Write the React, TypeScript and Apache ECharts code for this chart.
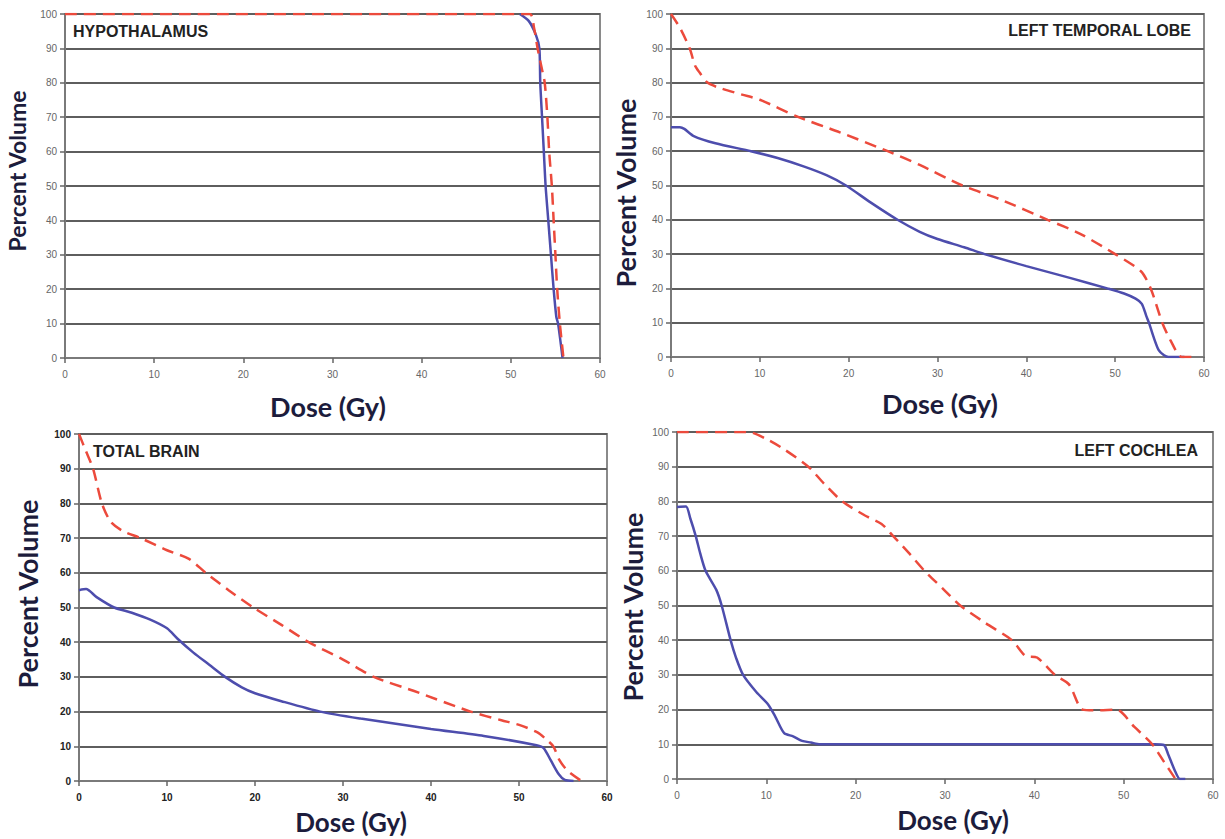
import React, { useEffect, useRef } from "react";
import * as echarts from "echarts";

// ---- Data: [dose (Gy), percent volume] ----
const panelTitles = ["HYPOTHALAMUS", "LEFT TEMPORAL LOBE", "TOTAL BRAIN", "LEFT COCHLEA"];
const doseTicks = [0, 10, 20, 30, 40, 50, 60];
const volumeTicks = [0, 10, 20, 30, 40, 50, 60, 70, 80, 90, 100];

const hypothalamusSolid: [number, number][] = [
  [51.0, 100], [52.0, 98], [52.8, 94], [53.2, 90], [53.3, 80], [53.5, 70], [53.7, 60],
  [53.9, 50], [54.2, 40], [54.5, 30], [54.8, 20], [55.1, 12], [55.3, 10], [55.8, 0],
];
const hypothalamusDashed: [number, number][] = [
  [0, 100], [52.1, 100], [52.6, 96], [53.0, 90], [53.4, 85], [53.8, 80], [54.1, 70], [54.3, 60],
  [54.6, 50], [54.8, 40], [55.0, 30], [55.2, 20], [55.5, 10], [55.9, 0],
];

const temporalSolid: [number, number][] = [
  [0, 67], [1, 67], [1.5, 66.5], [2.5, 64.5], [5, 62.3], [9, 60], [12, 58], [15, 55.5],
  [17.5, 53], [19.7, 50], [22.5, 45], [25.5, 40], [28, 36.5], [30, 34.4], [33, 32], [35.3, 30],
  [40, 26.5], [45, 23], [49.1, 20], [51, 18.5], [52.3, 17], [53, 15.5], [53.5, 12], [53.8, 10],
  [54.3, 6], [54.9, 2], [55.5, 0.5], [56, 0], [57.8, 0],
];
const temporalDashed: [number, number][] = [
  [0, 100], [1, 96], [2.1, 90], [2.7, 85], [3.2, 83], [4.1, 80], [5.4, 78.5], [8, 76.5],
  [10, 75], [14.3, 70], [19, 65.5], [24.4, 60], [28, 56], [32.8, 50], [37, 46], [42.4, 40],
  [46, 36], [50, 30], [52.9, 25], [54, 20], [55.3, 10], [56.2, 5], [57.5, 0], [59.1, 0],
];

const brainSolid: [number, number][] = [
  [0, 55], [0.8, 55.3], [2, 53], [4, 50], [6, 48.5], [8.1, 46.5], [10, 44], [11.2, 41],
  [13, 37], [14.8, 33.5], [16.6, 30], [18.5, 27], [20, 25.3], [23, 23], [27.4, 20], [32, 18],
  [40, 15], [46, 13], [52, 10.3], [52.8, 9.5], [53.6, 6], [54.5, 2], [55.2, 0.3], [56.2, 0],
];
const brainDashed: [number, number][] = [
  [0, 100], [0.8, 95], [1.6, 90], [2.6, 80], [3.6, 74.7], [5, 72], [7, 70], [10, 66.5],
  [12.5, 64], [14.4, 60], [17, 55], [19.8, 50], [23, 45], [26.1, 40], [30, 35], [33.5, 30],
  [38, 26], [44.5, 20], [48, 17.5], [50.1, 16.1], [52.1, 14], [53.1, 12], [53.9, 10],
  [54.6, 6], [55.5, 3], [57.1, 0],
];

const cochleaSolid: [number, number][] = [
  [0, 78.4], [1, 78.5], [1.5, 75], [2.1, 70], [2.6, 65], [3.2, 60], [4.4, 54.5], [5, 50],
  [6, 40], [6.6, 35], [7.4, 30], [8.9, 25], [10.2, 21.5], [11, 18], [12, 13.2], [13, 12.3],
  [14, 11], [15, 10.5], [16, 10], [53.5, 10], [54.5, 9.8], [55, 7], [55.8, 2], [56.3, 0],
  [56.9, 0],
];
const cochleaDashed: [number, number][] = [
  [0, 100], [8, 100], [10, 98], [12, 95], [14.7, 90], [16.5, 85], [18.5, 80], [21, 76],
  [22.9, 73.5], [24.2, 70], [26, 65], [27.7, 60], [29.7, 55], [31.7, 50], [34.5, 45],
  [37.5, 40], [39, 35.5], [40.3, 35], [42.3, 30], [43.9, 27.2], [45.4, 20], [47, 19.8],
  [49.2, 20], [51.2, 15], [53.2, 10], [54.5, 5], [55.8, 0],
];

const solidSeries = [hypothalamusSolid, temporalSolid, brainSolid, cochleaSolid];
const dashedSeries = [hypothalamusDashed, temporalDashed, brainDashed, cochleaDashed];

// ---- Layout / style ----
const grids = [
  { left: 65, top: 14, width: 535, height: 344 },
  { left: 671, top: 14, width: 533, height: 343 },
  { left: 79, top: 434, width: 528, height: 347 },
  { left: 677, top: 432, width: 536, height: 347 },
];
const boldLabels = [false, false, true, false];
const titlePos = [
  { x: 73, y: 31, align: "left" },
  { x: 1191, y: 30, align: "right" },
  { x: 93, y: 451, align: "left" },
  { x: 1198, y: 450, align: "right" },
];
const yNamePos = [
  { x: 17, y: 171, size: 23 },
  { x: 625, y: 193, size: 27 },
  { x: 27, y: 594, size: 27 },
  { x: 632, y: 607, size: 27 },
];
const xNamePos = [
  { x: 328, y: 406, size: 27 },
  { x: 940, y: 403, size: 27 },
  { x: 351, y: 822, size: 26 },
  { x: 953, y: 820, size: 26 },
];

const BLUE = "#4d4dad";
const RED = "#ec4a3c";
const NAME_COLOR = "#1c1c3c";
const NAME_FONT = "Lato, 'Open Sans', sans-serif";

export default function App() {
  const ref = useRef<HTMLDivElement>(null);

  useEffect(() => {
    if (!ref.current) return;
    const chart = echarts.init(ref.current, undefined, { renderer: "svg" });

    const xAxis = grids.map((_, i) => ({
      type: "value",
      gridIndex: i,
      min: doseTicks[0],
      max: doseTicks[doseTicks.length - 1],
      interval: 10,
      axisLine: { show: true, onZero: false, lineStyle: { color: "#7a7a7a", width: 2 } },
      axisTick: { show: true, length: 5, lineStyle: { color: "#666", width: 1.5 } },
      axisLabel: {
        fontSize: 10,
        color: boldLabels[i] ? "#222" : "#666",
        fontWeight: boldLabels[i] ? "bold" : "normal",
        fontFamily: "'Liberation Sans', Arial, sans-serif",
        margin: 11,
      },
      splitLine: { show: false },
    }));

    const yAxis = grids.map((_, i) => ({
      type: "value",
      gridIndex: i,
      min: volumeTicks[0],
      max: volumeTicks[volumeTicks.length - 1],
      interval: 10,
      axisLine: { show: true, lineStyle: { color: "#7a7a7a", width: 2 } },
      axisTick: { show: true, length: 5, lineStyle: { color: "#666", width: 1.5 } },
      axisLabel: {
        fontSize: 10,
        color: boldLabels[i] ? "#222" : "#666",
        fontWeight: boldLabels[i] ? "bold" : "normal",
        fontFamily: "'Liberation Sans', Arial, sans-serif",
        margin: 8,
      },
      splitLine: { show: true, lineStyle: { color: "#5e5e5e", width: 2 } },
    }));

    const series: any[] = [];
    grids.forEach((_, i) => {
      series.push({
        type: "line",
        name: "solid",
        xAxisIndex: i,
        yAxisIndex: i,
        data: solidSeries[i],
        symbol: "none",
        smooth: 0.25,
        lineStyle: { color: BLUE, width: 2.5, type: "solid" },
        z: 3,
      });
      series.push({
        type: "line",
        name: "dashed",
        xAxisIndex: i,
        yAxisIndex: i,
        data: dashedSeries[i],
        symbol: "none",
        smooth: 0.25,
        lineStyle: { color: RED, width: 2.5, type: [12, 7] },
        z: 4,
      });
    });

    const graphic: any[] = [];
    panelTitles.forEach((t, i) => {
      graphic.push({
        type: "text",
        x: titlePos[i].x,
        y: titlePos[i].y,
        z: 10,
        style: {
          text: t,
          fill: "#222",
          font: "bold 16px 'Liberation Sans', Arial, sans-serif",
          textAlign: titlePos[i].align,
          textVerticalAlign: "middle",
        },
      });
      graphic.push({
        type: "text",
        x: yNamePos[i].x,
        y: yNamePos[i].y,
        rotation: Math.PI / 2,
        style: {
          text: "Percent Volume",
          fill: NAME_COLOR,
          font: `bold ${yNamePos[i].size}px ${NAME_FONT}`,
          textAlign: "center",
          textVerticalAlign: "middle",
        },
      });
      graphic.push({
        type: "text",
        x: xNamePos[i].x,
        y: xNamePos[i].y,
        style: {
          text: "Dose (Gy)",
          fill: NAME_COLOR,
          font: `bold ${xNamePos[i].size}px ${NAME_FONT}`,
          textAlign: "center",
          textVerticalAlign: "middle",
        },
      });
    });

    chart.setOption({
      animation: false,
      backgroundColor: "#ffffff",
      grid: grids.map((g) => ({
        ...g,
        show: true,
        borderColor: "#8a8a8a",
        borderWidth: 2,
        backgroundColor: "#ffffff",
        containLabel: false,
      })),
      xAxis,
      yAxis,
      series,
      graphic,
    });

    return () => chart.dispose();
  }, []);

  return (
    <div
      ref={ref}
      style={{ position: "absolute", left: 0, top: 0, width: 1225, height: 839 }}
    />
  );
}
